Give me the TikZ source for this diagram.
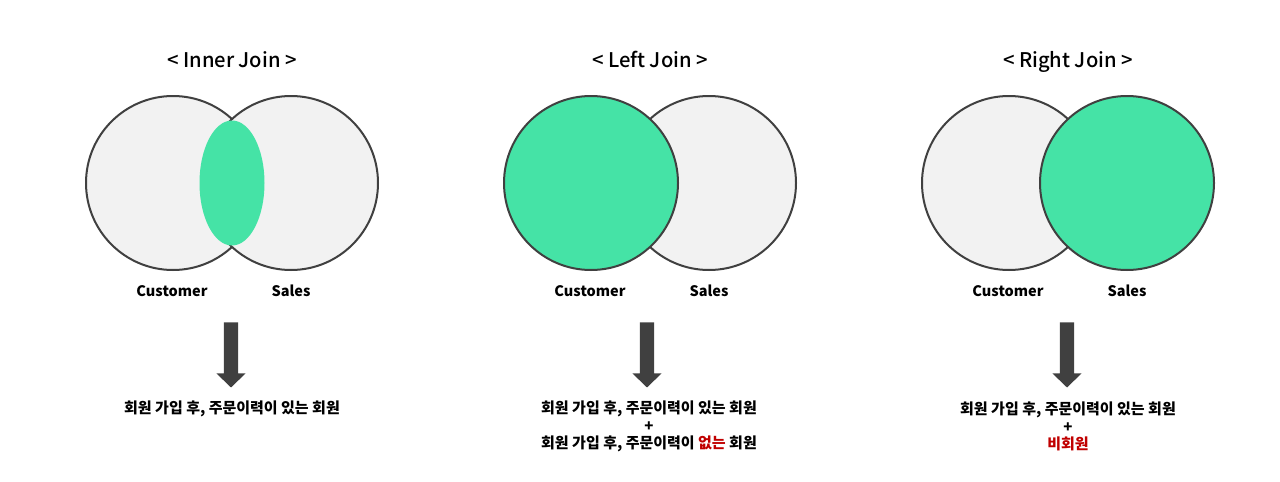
\documentclass[tikz,border=0pt]{standalone}
\usepackage{fontspec}
\setmainfont{Noto Sans CJK KR}
\newfontfamily\titlefont{Noto Sans CJK KR Medium}
\usepackage{tikz}
\usetikzlibrary{positioning,shapes.arrows}

\definecolor{setgray}{HTML}{F2F2F2}
\definecolor{setline}{HTML}{404040}
\definecolor{joingreen}{HTML}{45E3A6}
\definecolor{notred}{HTML}{C00000}

\begin{document}
\begin{tikzpicture}[x=1pt,y=-1pt,
    set/.style={circle,draw=setline,line width=2pt,fill=setgray,minimum size=174pt,inner sep=0pt},
    hit/.style={set,fill=joingreen},
    title/.style={anchor=base,font=\titlefont\fontsize{20.2}{24}\selectfont},
    setname/.style={anchor=base,font=\bfseries\fontsize{14.5}{16}\selectfont},
    result/.style={font=\bfseries\fontsize{15}{17.5}\selectfont,align=center},
    down/.style={single arrow,fill=setline,draw=none,shape border rotate=270,
      minimum height=65pt,minimum width=29pt,inner sep=7pt,
      single arrow head extend=7.5pt,single arrow tip angle=92}]
  \useasboundingbox (0,0) rectangle (1280,482);

  % inner join
  \node[title]   (T1) at (232,67)  {< Inner Join >};
  \node[set]     (C1) at (173,183) {};
  \node[set]     (S1) at (291,183) {};
  \fill[joingreen] (232,183) ellipse [x radius=32.5, y radius=62.5];
  \node[setname] (c1) at (172,296) {Customer};
  \node[setname] (s1) at (291,296) {Sales};
  \node[down]    (A1) at (231,351.5) {};
  \node[result]  (R1) at (232,409) {회원 가입 후, 주문이력이 있는 회원};

  % left join
  \node[title]   (T2) at (650,67)  {< Left Join >};
  \node[set]     (S2) at (709,183) {};
  \node[hit]     (C2) at (591,183) {};
  \node[setname] (c2) at (590,296) {Customer};
  \node[setname] (s2) at (709,296) {Sales};
  \node[down]    (A2) at (647,351.5) {};
  \node[result]  (R2) at (649,426.5) {회원 가입 후, 주문이력이 있는 회원\\+\\회원 가입 후, 주문이력이 {\color{notred}없는} 회원};

  % right join
  \node[title]   (T3) at (1068,67)  {< Right Join >};
  \node[set]     (C3) at (1009,183) {};
  \node[hit]     (S3) at (1127,183) {};
  \node[setname] (c3) at (1008,296) {Customer};
  \node[setname] (s3) at (1127,296) {Sales};
  \node[down]    (A3) at (1067,351.5) {};
  \node[result]  (R3) at (1068,426.5) {회원 가입 후, 주문이력이 있는 회원\\+\\{\color{notred}비회원}};
\end{tikzpicture}
\end{document}
